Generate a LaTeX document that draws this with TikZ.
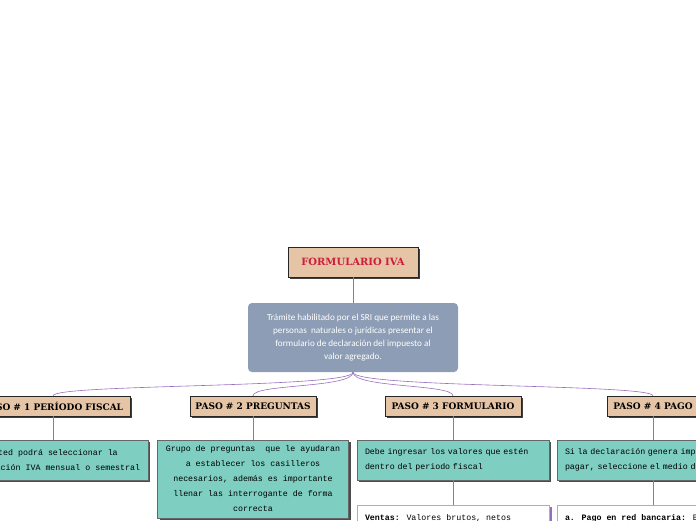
\documentclass[tikz,border=0pt]{standalone}
\usepackage{fontspec}
\setmainfont{DejaVu Serif}
\newfontfamily\descfont{Carlito}
\newfontfamily\greenfont{Liberation Mono}
\usetikzlibrary{shadows}
\definecolor{tanfill}{RGB}{230,196,166}
\definecolor{titlered}{RGB}{205,30,60}
\definecolor{descblue}{RGB}{140,157,181}
\definecolor{tealfill}{RGB}{126,206,194}
\definecolor{linkpurple}{RGB}{150,110,190}
\definecolor{boxlilac}{RGB}{190,160,220}

\begin{document}
\begin{tikzpicture}[x=1pt, y=-1pt, every node/.style={inner sep=0pt},
	headbox/.style={draw=black!85, fill=tanfill, minimum height=20pt,
		font=\fontsize{9}{10}\selectfont\bfseries,
		drop shadow={shadow xshift=2pt, shadow yshift=-2pt, fill=black!75, opacity=1}},
	tealbox/.style={draw=black!60, fill=tealfill, align=center,
		font=\greenfont\fontsize{8.3}{15}\selectfont,
		drop shadow={shadow xshift=2pt, shadow yshift=-2pt, fill=black!70, opacity=1}},
	notebox/.style={draw=boxlilac, fill=white, minimum width=192pt, minimum height=40pt,
		drop shadow={shadow xshift=3pt, shadow yshift=-2pt, fill=linkpurple, opacity=1}},
	notetext/.style={font=\greenfont\fontsize{8.3}{15}\selectfont, align=left},
	link/.style={draw=linkpurple, line width=0.6pt}]
	\useasboundingbox (0,0) rectangle (696,520);
	\clip (0,0) rectangle (696,520);

	% centre
	\node[headbox, minimum width=130pt, font=\fontsize{10}{12}\selectfont\bfseries,
		text=titlered, minimum height=30pt] (title) at (353,262) {FORMULARIO IVA};
	\node[fill=descblue, rounded corners=4pt, minimum width=210pt, minimum height=69pt,
		text=white, align=center, font=\descfont\fontsize{9.2}{13}\selectfont] (desc) at (353,337.5)
		{Trámite habilitado por el SRI que permite a las\\personas~ naturales o jurídicas presentar el\\formulario de declaración del impuesto al\\valor agregado.};
	\draw[link] (title) -- (desc);

	% pasos
	\node[headbox, minimum width=154pt] (pasoA) at (53,406) {PASO \# 1 PERÍODO FISCAL};
	\node[headbox, minimum width=126pt] (pasoB) at (253,406) {PASO \# 2 PREGUNTAS};
	\node[headbox, minimum width=136pt] (pasoC) at (453,406) {PASO \# 3 FORMULARIO};
	\node[headbox, minimum width=92pt] (pasoD) at (653,406) {PASO \# 4 PAGO};
	\foreach \p in {pasoA,pasoB,pasoC,pasoD}
		\draw[link] (desc.south) .. controls +(0,16) and +(0,-12) .. (\p.north);

	% detalle
	\node[tealbox, minimum width=190pt, minimum height=40pt] (greenA) at (53,460)
		{Usted podrá seleccionar la\\declaración IVA mensual o semestral};
	\node[tealbox, minimum width=191pt, minimum height=78pt] (greenB) at (253,479)
		{Grupo de preguntas~ que le ayudaran\\a establecer los casilleros\\necesarios, además es importante\\llenar las interrogante de forma\\correcta};
	\node[tealbox, minimum width=192pt, minimum height=40pt, align=left,
		text width=176pt] (greenC) at (453,460)
		{Debe ingresar los valores que estén\\dentro del periodo fiscal};
	\node[tealbox, minimum width=192pt, minimum height=40pt, align=left,
		text width=176pt] (greenD) at (653,460)
		{Si la declaración genera impuesto a\\pagar, seleccione el medio de pago};
	\foreach \p/\g in {pasoA/greenA,pasoB/greenB,pasoC/greenC,pasoD/greenD}
		\draw[link] (\p) -- (\g);

	% notas
	\node[notebox, anchor=north] (noteC) at (453,505) {};
	\node[notebox, anchor=north] (noteD) at (653,505) {};
	\draw[link] (greenC) -- (noteC);
	\draw[link] (greenD) -- (noteD);
	\node[notetext, anchor=north west] at ([xshift=8pt, yshift=-9pt]noteC.north west)
		{\textbf{Ventas:} Valores brutos, netos};
	\node[notetext, anchor=north west] at ([xshift=8pt, yshift=-9pt]noteD.north west)
		{\textbf{a. Pago en red bancaria:} B};
\end{tikzpicture}
\end{document}
